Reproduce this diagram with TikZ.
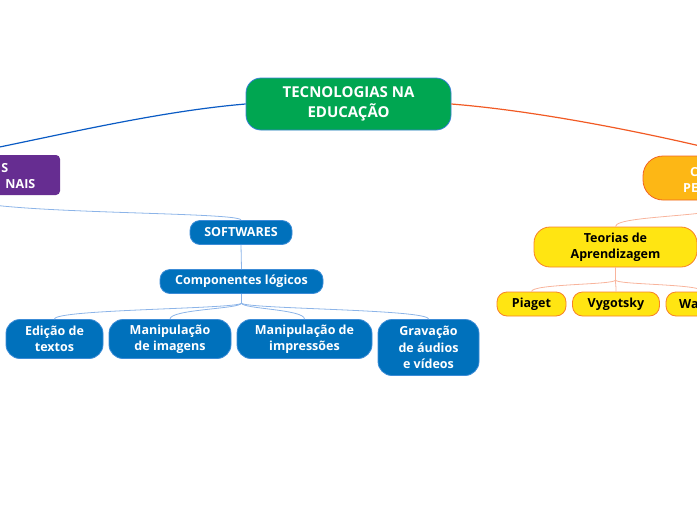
\documentclass[tikz,border=0pt]{standalone}
\usepackage{fontspec}
\setmainfont{Open Sans}
\usetikzlibrary{calc}
\definecolor{cgreen}{RGB}{0,166,81}
\definecolor{cgreenb}{RGB}{59,130,214}
\definecolor{cpurple}{RGB}{102,45,145}
\definecolor{cblue}{RGB}{0,113,188}
\definecolor{cblueb}{RGB}{60,140,215}
\definecolor{corange}{RGB}{253,183,21}
\definecolor{coranb}{RGB}{242,101,34}
\definecolor{cyel}{RGB}{255,229,18}
\definecolor{cyelb}{RGB}{247,130,40}
\definecolor{lmain}{RGB}{10,91,196}
\definecolor{lorange}{RGB}{241,90,36}
\definecolor{llblue}{RGB}{140,180,232}
\definecolor{lsalmon}{RGB}{248,180,156}
\tikzset{
  box/.style={inner sep=0pt, align=center, font=\bfseries\fontsize{12.5}{16.5}\selectfont},
  bluebox/.style={box, fill=cblue, draw=cblueb, line width=0.8pt, text=white},
  yelbox/.style={box, fill=cyel, draw=cyelb, line width=0.8pt, text=black},
  thinblue/.style={draw=llblue, line width=0.8pt},
  thinsalmon/.style={draw=lsalmon, line width=0.8pt},
  wtext/.style={inner sep=0pt, text=white, font=\bfseries\fontsize{12.5}{16.5}\selectfont},
}
\begin{document}
\begin{tikzpicture}[x=1pt,y=-1pt]
\useasboundingbox (0,0) rectangle (697,520);
\clip (0,0) rectangle (697,520);
% nodes
\node[box, fill=cgreen, draw=cgreenb, line width=0.8pt, text=white, rounded corners=15pt,
  minimum width=205pt, minimum height=52pt, font=\bfseries\fontsize{15}{20.5}\selectfont]
  (central) at (348.5,104) {TECNOLOGIAS NA\\EDUCAÇÃO};
\node[box, fill=cpurple, rounded corners=4pt, minimum width=200pt, minimum height=40pt]
  (purple) at (-40,175) {};
\node[wtext, anchor=base east] (pt1) at (8.5,172.5) {S};
\node[wtext, anchor=base east] (pt2) at (35.5,188) {NAIS};
\node[box, fill=corange, draw=coranb, line width=0.8pt, rounded corners=20pt,
  minimum width=194pt, minimum height=44pt] (orangenode) at (740,178) {};
\node[wtext, anchor=base west] (ot1) at (690,176.5) {C};
\node[wtext, anchor=base west] (ot2) at (683,192.5) {PE};
\node[bluebox, rounded corners=10pt, minimum width=102pt, minimum height=24pt] (soft) at (241,232.5) {SOFTWARES};
\node[bluebox, rounded corners=10pt, minimum width=163pt, minimum height=24pt] (comp) at (241.5,281.5) {Componentes lógicos};
\node[bluebox, rounded corners=14pt, minimum width=97pt, minimum height=39pt] (ed) at (54.5,339) {Edição de\\textos};
\node[bluebox, rounded corners=14pt, minimum width=122pt, minimum height=39pt] (mimg) at (170,339) {Manipulação\\de imagens};
\node[bluebox, rounded corners=14pt, minimum width=135pt, minimum height=39pt] (mimp) at (304.5,339) {Manipulação de\\impressões};
\node[bluebox, rounded corners=14pt, minimum width=101pt, minimum height=56pt] (grav) at (428.5,347.5) {Gravação\\de áudios\\e vídeos};
\node[yelbox, rounded corners=16pt, minimum width=163pt, minimum height=40pt] (teor) at (615.5,247) {Teorias de\\Aprendizagem};
\node[yelbox, rounded corners=10pt, minimum width=69pt, minimum height=24pt] (piaget) at (531.5,304) {Piaget};
\node[yelbox, rounded corners=10pt, minimum width=87pt, minimum height=24pt] (vyg) at (616,304) {Vygotsky};
\node[yelbox, rounded corners=10pt, minimum width=74pt, minimum height=24pt] (wa) at (703,304) {};
\node[box, anchor=base west, text=black] (wat) at (679,308.5) {Wa};
% connectors
\draw[draw=lmain, line width=1.2pt] (central.west) .. controls (150,112) and (40,140) .. (purple.north);
\draw[draw=lorange, line width=1.2pt] (central.east) .. controls (550,112) and (670,138) .. (orangenode.north);
\draw[thinblue] (purple.south) .. controls (-40,215) and (241,211) .. (soft.north);
\draw[thinblue] (soft.south) -- (comp.north);
\coordinate (cj) at (241.5,303);
\draw[thinblue] (comp.south) -- (cj);
\foreach \c in {ed,mimg,mimp,grav}{
  \draw[thinblue] (cj) .. controls ($(cj)+(0,6)$) and ($(\c.north)+(0,-10)$) .. (\c.north);
}
\draw[thinsalmon] (orangenode.south) .. controls (740,218) and (615.5,214) .. (teor.north);
\coordinate (tj) at (615.5,280);
\draw[thinsalmon] (teor.south) -- (tj);
\foreach \c in {piaget,vyg,wa}{
  \draw[thinsalmon] (tj) .. controls ($(tj)+(0,5)$) and ($(\c.north)+(0,-8)$) .. (\c.north);
}
\end{tikzpicture}
\end{document}
